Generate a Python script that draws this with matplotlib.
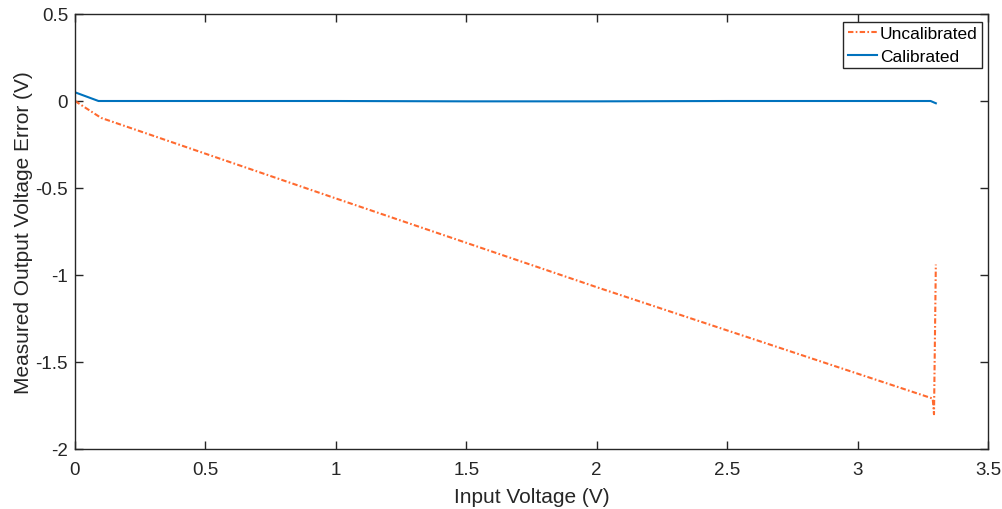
import matplotlib
matplotlib.use("Agg")
import matplotlib.pyplot as plt
from matplotlib.ticker import FuncFormatter

plt.rcParams['font.family'] = ['Liberation Sans', 'DejaVu Sans']

# data
x_uncal = [0, 0.1, 1.0, 2.0, 3.288, 3.293, 3.30]
y_uncal = [0, -0.097, -0.56, -1.07, -1.71, -1.80, -0.94]

x_cal = [0, 0.09, 0.5, 1.0, 1.5, 2.0, 2.5, 3.0, 3.28, 3.30]
y_cal = [0.05, 0.0, 0.0, 0.0, -0.002, -0.002, 0.0, 0.0, 0.0, -0.013]

xticks = [0, 0.5, 1, 1.5, 2, 2.5, 3, 3.5]
yticks = [-2, -1.5, -1, -0.5, 0, 0.5]

fig = plt.figure(figsize=(10.03, 5.10), dpi=100)
ax = fig.add_axes([75/1003, 60/510, 913/1003, 435/510])

ax.plot(x_uncal, y_uncal, color='#FF6A2F', linestyle=(0, (2.6, 1.1, 0.8, 1.1)),
        linewidth=1.5, label='Uncalibrated')
ax.plot(x_cal, y_cal, color='#0072BD', linestyle='-', linewidth=1.5, label='Calibrated')

ax.set_xlim(0, 3.5)
ax.set_ylim(-2, 0.5)
ax.set_xticks(xticks)
ax.set_yticks(yticks)
fmt = FuncFormatter(lambda v, p: ('%g' % v))
ax.xaxis.set_major_formatter(fmt)
ax.yaxis.set_major_formatter(fmt)
ax.tick_params(direction='in', length=6, width=1, labelsize=13.5, top=True, right=True,
               color='#262626', labelcolor='#262626')
ax.tick_params(axis='x', pad=9)
ax.tick_params(axis='y', pad=5)
for s in ax.spines.values():
    s.set_color('#262626')
    s.set_linewidth(1)

ax.set_xlabel('Input Voltage (V)', fontsize=15, color='#262626', labelpad=6)
ax.set_ylabel('Measured Output Voltage Error (V)', fontsize=15, color='#262626', labelpad=2)

leg = ax.legend(loc='upper right', bbox_to_anchor=(0.9934, 0.9816), borderaxespad=0,
                fontsize=12.5, fancybox=False, framealpha=1,
                edgecolor='#262626', handlelength=1.7, handletextpad=0.15,
                borderpad=0.25, labelspacing=0.4)
leg.get_frame().set_linewidth(1)

fig.savefig('out.png', dpi=100)
